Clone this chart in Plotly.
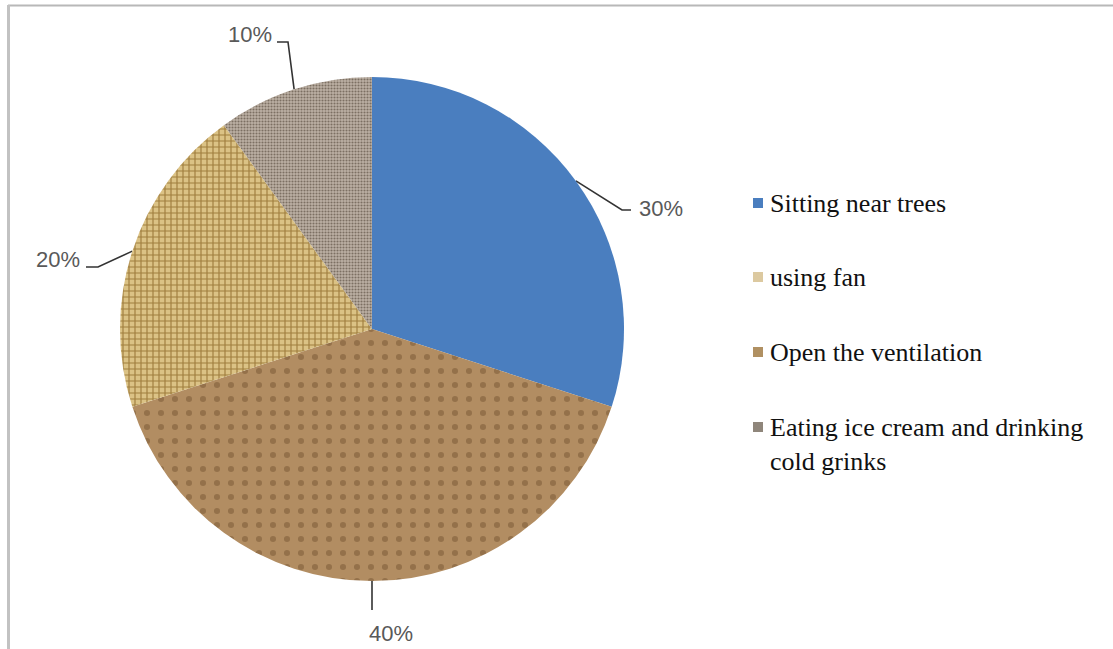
import math
import plotly.graph_objects as go

# ---- data -------------------------------------------------------------
categories = [
    "Sitting near trees",
    "using fan",
    "Open the ventilation",
    "Eating ice cream and drinking cold grinks",
]
legend_text = [
    "Sitting near trees",
    "using fan",
    "Open the ventilation",
    "Eating ice cream and drinking<br>cold grinks",
]
values = [30, 40, 20, 10]

# ---- styling ----------------------------------------------------------
W, H = 1113, 649
CX, CY, R = 372, 329, 252          # pie centre / radius in pixels

slice_bg = ["#4A7EBF", "#B28D62", "#DBC285", "#BDB1A4"]
slice_fg = ["#4A7EBF", "#94714A", "#A07E3E", "#7C6F63"]
slice_shape = ["", ".", "+", "."]
slice_size = [8, 14, 6, 3]
slice_solid = [0.2, 0.15, 0.35, 0.4]

legend_swatch = ["#4A7EBF", "#DCC9A0", "#B09062", "#8F867B"]

# label placement (text centre, leader bend, leader end) in pixels
label_text_pos = [(661, 208), (391, 633), (58, 259), (250, 34)]
label_bend = [(622, 210), (372, 610), (98, 267), (288, 42)]
label_end = [(631, 210), (372, 610), (86, 267), (277, 42)]

fig = go.Figure()

fig.add_trace(go.Pie(
    labels=categories,
    values=values,
    sort=False,
    direction="clockwise",
    rotation=0,
    textinfo="none",
    hoverinfo="label+percent",
    showlegend=False,
    marker=dict(
        colors=slice_bg,
        line=dict(width=0),
        pattern=dict(
            shape=slice_shape,
            fgcolor=slice_fg,
            bgcolor=slice_bg,
            size=slice_size,
            solidity=slice_solid,
            fillmode="replace",
        ),
    ),
    domain=dict(
        x=[(CX - R) / W, (CX + R) / W],
        y=[(H - CY - R) / H, (H - CY + R) / H],
    ),
))

# leader lines start on the rim at each slice's mid-angle
total = sum(values)
cum = 0
for i, v in enumerate(values):
    mid = (cum + v / 2) / total * 2 * math.pi
    cum += v
    sx = CX + R * math.sin(mid)
    sy = CY - R * math.cos(mid)
    bx, by = label_bend[i]
    ex, ey = label_end[i]
    fig.add_trace(go.Scatter(
        x=[sx, bx, ex], y=[sy, by, ey],
        mode="lines",
        line=dict(color="#333333", width=1.6),
        hoverinfo="skip",
        showlegend=False,
    ))
    tx, ty = label_text_pos[i]
    fig.add_annotation(
        x=tx, y=ty, xref="x", yref="y",
        text=f"{round(v / total * 100)}%",
        showarrow=False,
        font=dict(family="Liberation Sans, Arial, sans-serif", size=22, color="#595959"),
        xanchor="center", yanchor="middle",
    )

# legend drawn as swatches + text
legend_y = [203, 277, 352, 427]
for i, name in enumerate(legend_text):
    y = legend_y[i]
    fig.add_shape(
        type="rect", xref="x", yref="y",
        x0=753, x1=763, y0=y - 5, y1=y + 5,
        fillcolor=legend_swatch[i], line=dict(width=0),
    )
    fig.add_annotation(
        x=768, y=y - 16, xref="x", yref="y",
        text=name, showarrow=False, align="left",
        xanchor="left", yanchor="top",
        font=dict(family="Liberation Serif, Times New Roman, serif", size=26, color="#111111"),
    )

# chart-area frame (top and left edges)
fig.add_shape(type="line", xref="x", yref="y", x0=8, x1=W, y0=5.5, y1=5.5,
              line=dict(color="#B8B8B8", width=2))
fig.add_shape(type="line", xref="x", yref="y", x0=8.5, x1=8.5, y0=5, y1=H,
              line=dict(color="#C2C2C2", width=3))

fig.update_xaxes(range=[0, W], visible=False, fixedrange=True, domain=[0, 1])
fig.update_yaxes(range=[H, 0], visible=False, fixedrange=True, domain=[0, 1])

fig.update_layout(
    width=W, height=H,
    margin=dict(l=0, r=0, t=0, b=0),
    paper_bgcolor="white",
    plot_bgcolor="rgba(0,0,0,0)",
)

fig.write_html("out.html")
